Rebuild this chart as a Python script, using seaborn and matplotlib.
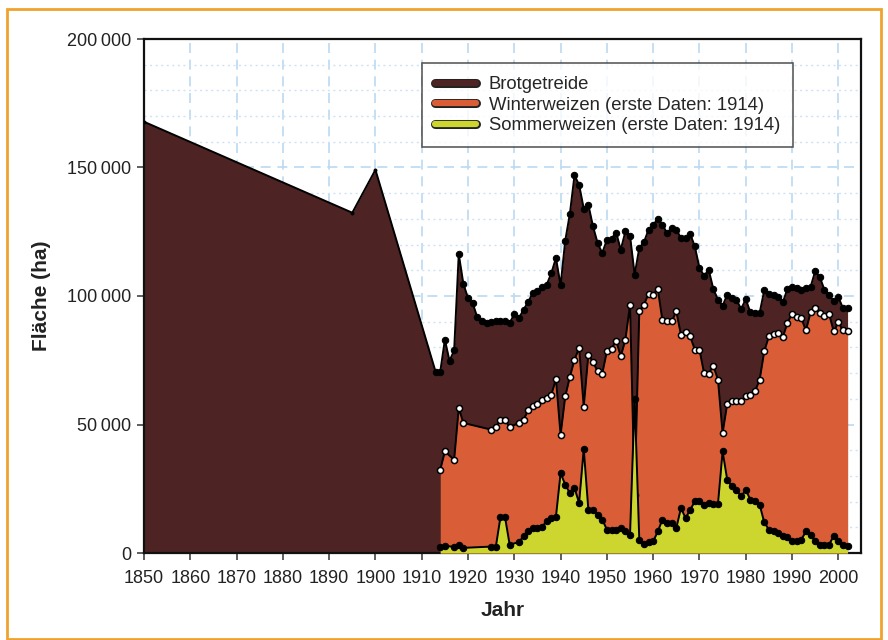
import matplotlib
matplotlib.use("Agg")
import matplotlib.pyplot as plt
import matplotlib.patheffects as pe
from matplotlib.lines import Line2D
from matplotlib.patches import Rectangle
from matplotlib.ticker import MultipleLocator, FuncFormatter
import pandas as pd
import seaborn as sns

# Brotgetreide (total), area in 1000 ha
brot_years = [1850, 1895, 1900] + list(range(1913, 2003))
brot_values = [
    167.8, 132.4, 149.1,
    70.5, 70.5, 83.0, 74.8, 78.8, 116.3, 104.7, 99.2, 97.3, 91.7,
    90.1, 89.5, 89.9, 90.4, 90.4, 90.1, 89.5, 93.0, 91.4, 94.7,
    97.7, 101.2, 101.8, 103.5, 104.4, 108.9, 114.8, 104.1, 121.5, 131.9,
    146.9, 143.3, 134.0, 135.5, 127.1, 120.6, 116.7, 121.9, 122.3, 124.7,
    118.0, 125.1, 123.5, 108.3, 118.7, 120.9, 125.8, 127.7, 130.0, 127.7,
    124.5, 126.5, 125.8, 122.6, 122.6, 124.1, 119.3, 110.9, 107.9, 110.2,
    102.7, 98.6, 96.2, 100.5, 99.2, 98.6, 94.9, 98.8, 93.6, 93.4,
    93.4, 102.2, 100.9, 100.5, 99.8, 97.5, 102.7, 103.5, 103.2, 102.4,
    103.2, 103.5, 109.6, 107.4, 102.4, 100.5, 97.9, 99.6, 95.3, 95.3,
]

# Weizen (first data 1914), area in 1000 ha
weizen_years = [1914, 1915, 1917, 1918, 1919] + list(range(1925, 1930)) + list(range(1931, 2003))
winter_values = [
    32.4, 39.5, 36.3, 56.4, 50.6,
    48.0, 49.0, 51.6, 51.6, 49.0,
    50.6, 51.9, 55.5, 57.3, 58.0, 59.4, 60.3, 61.6, 67.7,
    46.0, 60.9, 68.5, 75.2, 79.8, 57.0, 77.2, 74.3, 70.7, 69.8,
    78.5, 79.4, 82.6, 76.5, 83.0, 96.6, 22.7, 94.0, 96.6, 100.9,
    100.5, 102.8, 90.5, 90.1, 90.1, 94.0, 84.9, 86.0, 84.3, 79.1,
    79.1, 70.0, 69.8, 72.9, 67.4, 46.7, 58.1, 59.0, 59.0, 59.0,
    60.9, 61.6, 62.9, 67.4, 78.5, 84.3, 85.3, 85.6, 84.0, 89.5,
    93.1, 91.8, 91.4, 86.6, 93.6, 95.3, 93.4, 92.3, 93.1, 86.2,
    89.7, 86.6, 86.2,
]
sommer_values = [
    2.3, 2.9, 2.3, 3.0, 2.0,
    2.5, 2.3, 13.9, 13.9, 3.2,
    4.3, 6.5, 8.7, 9.7, 9.9, 10.3, 12.3, 13.6, 14.2,
    31.1, 26.6, 23.3, 25.3, 19.5, 40.5, 16.8, 16.8, 14.9, 13.0,
    9.1, 9.1, 9.1, 9.7, 8.7, 7.1, 60.0, 5.2, 3.5, 4.1,
    4.5, 8.4, 13.0, 11.7, 11.7, 9.7, 17.5, 13.6, 16.8, 20.1,
    20.1, 18.8, 19.5, 19.1, 19.1, 39.5, 28.5, 25.9, 24.6, 22.0,
    24.6, 20.7, 20.1, 18.8, 11.9, 9.1, 8.4, 7.8, 6.7, 6.2,
    4.5, 4.5, 5.2, 8.4, 7.1, 4.5, 3.2, 3.2, 3.2, 6.7,
    4.5, 3.2, 2.6,
]

labels = ["Brotgetreide", "Winterweizen (erste Daten: 1914)", "Sommerweizen (erste Daten: 1914)"]
colors = ["#4d2423", "#d95d36", "#cdd52f"]

brot = pd.DataFrame({"Jahr": brot_years, "ha": [v * 1000 for v in brot_values]})
weizen = pd.DataFrame({
    "Jahr": weizen_years,
    "winter": [v * 1000 for v in winter_values],
    "sommer": [v * 1000 for v in sommer_values],
})

sns.set_theme(style="white")
plt.rcParams["font.family"] = ["Liberation Sans", "DejaVu Sans"]

fig = plt.figure(figsize=(8.88, 6.4), dpi=100)
ax = fig.add_axes([144 / 888, 1 - 553 / 640, 717 / 888, 514 / 640])

# filled areas, each series drawn over the previous one
ax.fill_between(brot["Jahr"], brot["ha"], color=colors[0], lw=0, zorder=2)
sns.lineplot(data=brot, x="Jahr", y="ha", color="black", lw=1.4, marker="o", markersize=4.6,
             markerfacecolor="black", markeredgecolor="black", markevery=list(range(3, len(brot))),
             ax=ax, zorder=3)
sns.scatterplot(data=brot.iloc[:3], x="Jahr", y="ha", color="black", s=8, ax=ax, zorder=3, linewidth=0)

ax.fill_between(weizen["Jahr"], weizen["winter"], color=colors[1], lw=0, zorder=4)
sns.lineplot(data=weizen, x="Jahr", y="winter", color="black", lw=1.4, marker="o", markersize=4.4,
             markerfacecolor="white", markeredgecolor="black", markeredgewidth=1.1, ax=ax, zorder=5)

ax.fill_between(weizen["Jahr"], weizen["sommer"], color=colors[2], lw=0, zorder=6)
sns.lineplot(data=weizen, x="Jahr", y="sommer", color="black", lw=1.4, marker="o", markersize=4.6,
             markerfacecolor="black", markeredgecolor="black", ax=ax, zorder=7)

ax.set_xlim(1850, 2004.9)
ax.set_ylim(0, 200000)
ax.xaxis.set_major_locator(MultipleLocator(10))
ax.yaxis.set_major_locator(MultipleLocator(50000))
ax.yaxis.set_minor_locator(MultipleLocator(10000))
ax.yaxis.set_major_formatter(FuncFormatter(lambda v, p: f"{int(v):,}".replace(",", "\u2009")))

ax.grid(True, which="major", color="#bcd9f0", lw=1.2, ls=(0, (6, 4)), zorder=0)
ax.grid(True, which="minor", axis="y", color="#cfe2f3", lw=1.0, ls=(0, (1.5, 2.5)), zorder=0)
ax.set_axisbelow(True)

for s in ax.spines.values():
    s.set_color("#111111")
    s.set_linewidth(1.6)
ax.tick_params(axis="both", which="major", direction="out", length=5, width=1.1,
               color="#333333", labelsize=13, labelcolor="#222222", bottom=True, left=True)
ax.tick_params(axis="x", which="major", pad=7)
ax.tick_params(axis="y", which="major", pad=4)
ax.tick_params(axis="y", which="minor", left=False)

ax.set_xlabel("Jahr", fontsize=15, fontweight="bold", color="#222222", labelpad=10)
ax.set_ylabel("Fläche (ha)", fontsize=15, fontweight="bold", color="#222222", labelpad=12)

handles = [
    Line2D([], [], color=c, lw=4.5, solid_capstyle="round",
           path_effects=[pe.Stroke(linewidth=6.5, foreground="#222222"), pe.Normal()])
    for c in colors
]
leg = ax.legend(handles, labels, loc="upper left", bbox_to_anchor=(0.388, 0.953), borderaxespad=0,
                fontsize=13.3, handlelength=2.2, labelspacing=0.2, frameon=True, fancybox=False,
                borderpad=0.7, handletextpad=0.7)
leg.get_frame().set_edgecolor("#333333")
leg.get_frame().set_linewidth(1.2)
leg.set_zorder(10)

# orange frame around the figure
fig.patches.append(Rectangle((7 / 888, 1 / 640), 874 / 888, 630 / 640, transform=fig.transFigure,
                             fill=False, edgecolor="#f0a22e", lw=2))

fig.savefig("out.png", dpi=100)
